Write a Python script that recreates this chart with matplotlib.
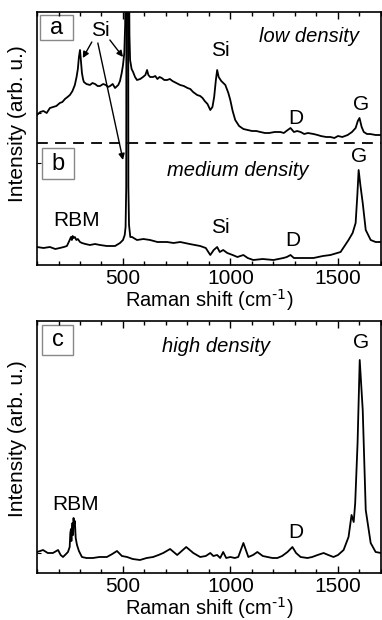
import matplotlib
matplotlib.use("Agg")
import matplotlib.pyplot as plt
from matplotlib.patches import Rectangle
from matplotlib.ticker import MultipleLocator

plt.rcParams['font.family'] = ['Liberation Sans', 'DejaVu Sans']
plt.rcParams['mathtext.default'] = 'regular'

# low density spectrum (upper trace of top panel)
a_x = [100, 115, 130, 145, 160, 175, 190, 206, 218, 230, 242, 253, 265, 276, 284, 290, 295, 300,
       304, 309, 314, 318, 330, 346, 358, 370, 382, 393, 408, 420, 430, 440, 452, 463, 478, 486,
       494, 500, 506, 510, 512, 528, 530, 533, 540, 547, 556, 565, 580, 593, 604, 612, 618, 626,
       640, 650, 660, 670, 680, 692, 705, 718, 730, 748, 766, 783, 800, 813, 826, 845, 859, 870,
       880, 893, 906, 916, 924, 932, 938, 945, 957, 976, 990, 999, 1010, 1022, 1040, 1060, 1080,
       1100, 1120, 1139, 1160, 1180, 1205, 1232, 1248, 1260, 1279, 1295, 1310, 1326, 1343, 1360,
       1386, 1405, 1420, 1445, 1465, 1483, 1500, 1520, 1545, 1565, 1582, 1592, 1600, 1610, 1620,
       1635, 1650, 1675, 1700]
a_y = [150, 153, 154, 152, 157, 158, 159, 162, 163, 166, 168, 170, 174, 180, 188, 196, 208, 215,
       205, 192, 186, 183, 181, 180, 182, 181, 179, 179, 181, 180, 178, 179, 181, 177, 180, 184,
       192, 200, 212, 240, 300, 300, 230, 205, 196, 193, 188, 185, 186, 188, 190, 195, 190, 188,
       188, 189, 186, 188, 187, 185, 185, 186, 184, 182, 180, 179, 177, 176, 173, 170, 169, 167,
       164, 161, 155, 158, 168, 185, 195, 188, 184, 180, 172, 165, 154, 145, 139, 136, 135,
       134, 134, 133, 132, 132, 133, 133, 132, 134, 137, 133, 134, 133, 131, 132,
       131, 130, 129, 128, 128, 127, 129, 128, 130, 133, 137, 144, 147, 138, 133,
       131, 131, 130, 130]

# medium density spectrum (lower trace of top panel)
b_x = [100, 130, 160, 185, 206, 225, 239, 250, 258, 262, 266, 270, 276, 283, 290, 300, 309, 325,
       346, 370, 393, 425, 463, 486, 500, 508, 512, 515, 516, 524, 525, 528, 534, 542, 565, 595,
       626, 660, 705, 735, 766, 810, 859, 885, 906, 922, 938, 950, 966, 985, 1010, 1032, 1060,
       1080, 1106, 1150, 1200, 1246, 1262, 1279, 1295, 1312, 1350, 1386, 1430, 1465, 1512, 1549,
       1568, 1582, 1590, 1596, 1604, 1615, 1629, 1652, 1675, 1700]
b_y = [18, 17, 18, 16, 17, 18, 19, 24, 28, 25, 29, 27, 28, 25, 26, 23, 22, 21,
       20, 21, 20, 19, 19, 22, 25, 30, 38, 78, 300, 300, 78, 40, 28, 28, 25, 26,
       25, 23, 23, 22, 23, 21, 19, 17, 10, 15, 18, 13, 15, 12, 10, 8, 10,
       7, 5, 6, 5, 7, 8, 10, 7, 7, 7, 7, 9, 10, 13, 25,
       32, 42, 70, 95, 80, 62, 35, 25, 23, 23]

# high density spectrum (bottom panel)
c_x = [100, 115, 128, 150, 174, 198, 210, 221, 235, 244, 252, 255, 258, 260, 262, 265, 268, 270,
       272, 276, 280, 286, 295, 309, 330, 360, 390, 425, 450, 472, 495, 519, 545, 579, 610, 640,
       665, 687, 719, 752, 794, 827, 859, 885, 906, 920, 938, 952, 966, 980, 999, 1020, 1036,
       1060, 1083, 1105, 1125, 1150, 1172, 1195, 1218, 1240, 1265, 1288, 1305, 1326, 1358, 1380,
       1405, 1433, 1455, 1479, 1500, 1526, 1549, 1563, 1573, 1580, 1591, 1601, 1615, 1629, 1652,
       1675, 1700]
c_y = [21, 22, 23, 20, 20, 23, 18, 16, 19, 21, 26, 40, 44, 32, 42, 50, 38, 55,
       48, 52, 35, 28, 22, 16, 15, 15, 16, 16, 19, 22, 17, 16, 14, 13, 15, 16,
       18, 20, 24, 18, 26, 20, 16, 17, 20, 17, 18, 15, 21, 15, 16, 15, 16,
       30, 16, 18, 21, 17, 16, 15, 15, 17, 21, 26, 20, 16, 15, 16,
       18, 20, 18, 16, 18, 23, 36, 58, 51, 70, 130, 213, 163, 63, 30,
       21, 20]

xticks_major = [500, 1000, 1500]

fig = plt.figure(figsize=(3.82, 6.2), dpi=100)
ax1 = fig.add_axes([37 / 382, 1 - 265 / 620, 344 / 382, 253 / 620])
ax2 = fig.add_axes([37 / 382, 1 - 573 / 620, 344 / 382, 252 / 620])


def style(ax, yt):
    ax.set_xlim(100, 1700)
    ax.set_xticks(xticks_major)
    ax.xaxis.set_minor_locator(MultipleLocator(100))
    ax.tick_params(axis='x', which='both', direction='in', top=True, labelsize=15, pad=3)
    ax.tick_params(axis='x', which='major', length=5, width=1)
    ax.tick_params(axis='x', which='minor', length=3, width=1)
    ax.set_yticks(yt)
    ax.tick_params(axis='y', direction='in', length=3, labelleft=False)
    for s in ax.spines.values():
        s.set_linewidth(1.2)
    ax.set_xlabel(r'Raman shift (cm$^{\text{-1}}$)', fontsize=14.5, labelpad=-1)


def box(ax, x0, y0, x1, y1, letter):
    ax.add_patch(Rectangle((x0, y0), x1 - x0, y1 - y0, transform=ax.transAxes,
                           fill=False, edgecolor='#888888', lw=1))
    ax.text((x0 + x1) / 2, (y0 + y1) / 2, letter, transform=ax.transAxes,
            ha='center', va='center', fontsize=17)


# top panel: a and b
ax1.plot(a_x, a_y, color='k', lw=1.3)
ax1.plot(b_x, b_y, color='k', lw=1.3)
ax1.set_ylim(0, 253)
ax1.axhline(122, color='k', lw=1.3, dashes=[6, 4])
style(ax1, [102, 152])
box(ax1, 0.009, 0.889, 0.105, 0.988, 'a')
box(ax1, 0.015, 0.340, 0.108, 0.462, 'b')

fs = 15
ax1.text(393, 235, 'Si', fontsize=fs, ha='center', va='center')
arw = dict(arrowstyle='-|>', color='k', lw=1, mutation_scale=9, shrinkA=0, shrinkB=0)
ax1.annotate('', xy=(313, 207), xytext=(355, 223), arrowprops=arw)
ax1.annotate('', xy=(500, 208), xytext=(439, 225), arrowprops=arw)
ax1.annotate('', xy=(500, 105), xytext=(383, 222), arrowprops=arw)
ax1.text(952, 215, 'Si', fontsize=fs, ha='center', va='center')
ax1.text(1363, 228, 'low density', fontsize=14.5, style='italic', ha='center', va='center')
ax1.text(1302, 147, 'D', fontsize=fs, ha='center', va='center')
ax1.text(1608, 160, 'G', fontsize=fs, ha='center', va='center')
ax1.text(1036, 95, 'medium density', fontsize=14.5, style='italic', ha='center', va='center')
ax1.text(285, 45, 'RBM', fontsize=fs, ha='center', va='center')
ax1.text(952, 38, 'Si', fontsize=fs, ha='center', va='center')
ax1.text(1288, 25, 'D', fontsize=fs, ha='center', va='center')
ax1.text(1596, 108, 'G', fontsize=fs, ha='center', va='center')

# bottom panel: c
ax2.plot(c_x, c_y, color='k', lw=1.3)
ax2.set_ylim(0, 252)
style(ax2, [20])
box(ax2, 0.015, 0.865, 0.105, 0.984, 'c')
ax2.text(934, 226, 'high density', fontsize=14.5, style='italic', ha='center', va='center')
ax2.text(281, 68, 'RBM', fontsize=fs, ha='center', va='center')
ax2.text(1302, 41, 'D', fontsize=fs, ha='center', va='center')
ax2.text(1605, 230, 'G', fontsize=fs, ha='center', va='center')

fig.text(18 / 382, 1 - 124 / 620, 'Intensity (arb. u.)', rotation=90,
         fontsize=15, ha='center', va='center')
fig.text(18 / 382, 1 - 439 / 620, 'Intensity (arb. u.)', rotation=90,
         fontsize=15, ha='center', va='center')

fig.savefig('out.png', dpi=100)
